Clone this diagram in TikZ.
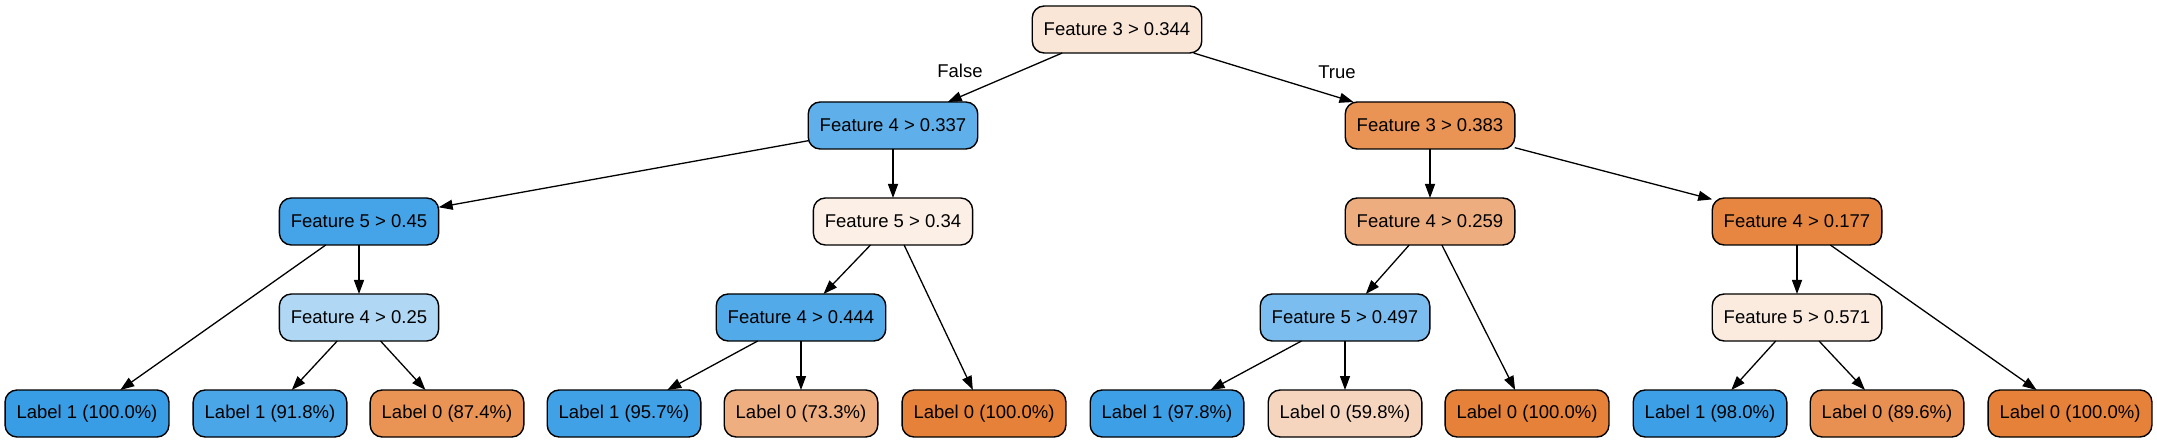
\documentclass[tikz,border=0pt]{standalone}
\usepackage{fontspec}
\setmainfont{Liberation Sans}
\usepackage{xcolor}
\usepackage{tikz}
\usetikzlibrary{arrows.meta,positioning}

\definecolor{orn}{HTML}{E58139}
\definecolor{blu}{HTML}{399DE5}

\begin{document}
\begin{tikzpicture}[
    x=1pt, y=-1pt,
    font=\fontsize{18.5}{22}\selectfont,
    >={Triangle[length=14pt, width=10pt]},
    % Styles
    split/.style={rectangle, draw=black, line width=1.4pt, rounded corners=12pt, minimum height=47pt, inner xsep=11.5pt, inner ysep=0pt, outer sep=0pt},
    leaf/.style={split},
    branch/.style={inner sep=0pt},
    arrow/.style={->, line width=1.3pt, draw=black}
]
\useasboundingbox (0,0) rectangle (2157,443);

% --- Root ---
\node[split, fill=orn!20!white] (f3_344) at (1117,29.5) {Feature 3 > 0.344};

% --- False Branch (Left) ---
\node[split, fill=blu!81!white, below=49pt of f3_344, xshift=-224pt] (f4_337) {Feature 4 > 0.337};
\node[split, fill=blu!94!white, below=49pt of f4_337, xshift=-534pt] (f5_45) {Feature 5 > 0.45};
\node[split, fill=orn!13!white, below=49pt of f4_337] (f5_34) {Feature 5 > 0.34};
\node[split, fill=blu!40!white, below=49pt of f5_45] (f4_25) {Feature 4 > 0.25};
\node[split, fill=blu!87!white, below=49pt of f5_34, xshift=-92pt] (f4_444) {Feature 4 > 0.444};

\node[leaf, fill=blu, below=145pt of f5_45, xshift=-272pt] (lab1_100) {Label 1 (100.0\%)};
\node[leaf, fill=blu!91!white, below=49pt of f4_25, xshift=-89pt] (lab1_918) {Label 1 (91.8\%)};
\node[leaf, fill=orn!86!white, below=49pt of f4_25, xshift=88pt] (lab0_874) {Label 0 (87.4\%)};
\node[leaf, fill=blu!96!white, below=49pt of f4_444, xshift=-177pt] (lab1_957) {Label 1 (95.7\%)};
\node[leaf, fill=orn!64!white, below=49pt of f4_444] (lab0_733) {Label 0 (73.3\%)};
\node[leaf, fill=orn, below=145pt of f5_34, xshift=91pt] (lab0_100a) {Label 0 (100.0\%)};

% --- True Branch (Right) ---
\node[split, fill=orn!86!white, below=49pt of f3_344, xshift=313pt] (f3_383) {Feature 3 > 0.383};
\node[split, fill=orn!65!white, below=49pt of f3_383] (f4_259) {Feature 4 > 0.259};
\node[split, fill=orn!96!white, below=49pt of f3_383, xshift=367pt] (f4_177) {Feature 4 > 0.177};
\node[split, fill=blu!67!white, below=49pt of f4_259, xshift=-85pt] (f5_497) {Feature 5 > 0.497};
\node[split, fill=orn!16!white, below=49pt of f4_177] (f5_571) {Feature 5 > 0.571};

\node[leaf, fill=blu!98!white, below=49pt of f5_497, xshift=-178pt] (lab1_978) {Label 1 (97.8\%)};
\node[leaf, fill=orn!33!white, below=49pt of f5_497] (lab0_598) {Label 0 (59.8\%)};
\node[leaf, fill=orn, below=145pt of f4_259, xshift=97pt] (lab0_100b) {Label 0 (100.0\%)};
\node[leaf, fill=blu!98!white, below=49pt of f5_571, xshift=-87pt] (lab1_980) {Label 1 (98.0\%)};
\node[leaf, fill=orn!88!white, below=49pt of f5_571, xshift=90pt] (lab0_896) {Label 0 (89.6\%)};
\node[leaf, fill=orn, below=145pt of f4_177, xshift=273pt] (lab0_100c) {Label 0 (100.0\%)};

% --- Branch Labels ---
\node[branch] (lbl_false) at (960,71) {False};
\node[branch] (lbl_true) at (1337,72) {True};

% --- Connections ---
\draw[arrow] (f3_344) -- (f4_337);
\draw[arrow] (f3_344) -- (f3_383);

\draw[arrow] (f4_337) -- (f5_45);
\draw[arrow] (f4_337) -- (f5_34);
\draw[arrow] (f5_45) -- (lab1_100);
\draw[arrow] (f5_45) -- (f4_25);
\draw[arrow] (f4_25) -- (lab1_918);
\draw[arrow] (f4_25) -- (lab0_874);
\draw[arrow] (f5_34) -- (f4_444);
\draw[arrow] (f5_34) -- (lab0_100a);
\draw[arrow] (f4_444) -- (lab1_957);
\draw[arrow] (f4_444) -- (lab0_733);

\draw[arrow] (f3_383) -- (f4_259);
\draw[arrow] (f3_383) -- (f4_177);
\draw[arrow] (f4_259) -- (f5_497);
\draw[arrow] (f4_259) -- (lab0_100b);
\draw[arrow] (f5_497) -- (lab1_978);
\draw[arrow] (f5_497) -- (lab0_598);
\draw[arrow] (f4_177) -- (f5_571);
\draw[arrow] (f4_177) -- (lab0_100c);
\draw[arrow] (f5_571) -- (lab1_980);
\draw[arrow] (f5_571) -- (lab0_896);

\end{tikzpicture}
\end{document}
